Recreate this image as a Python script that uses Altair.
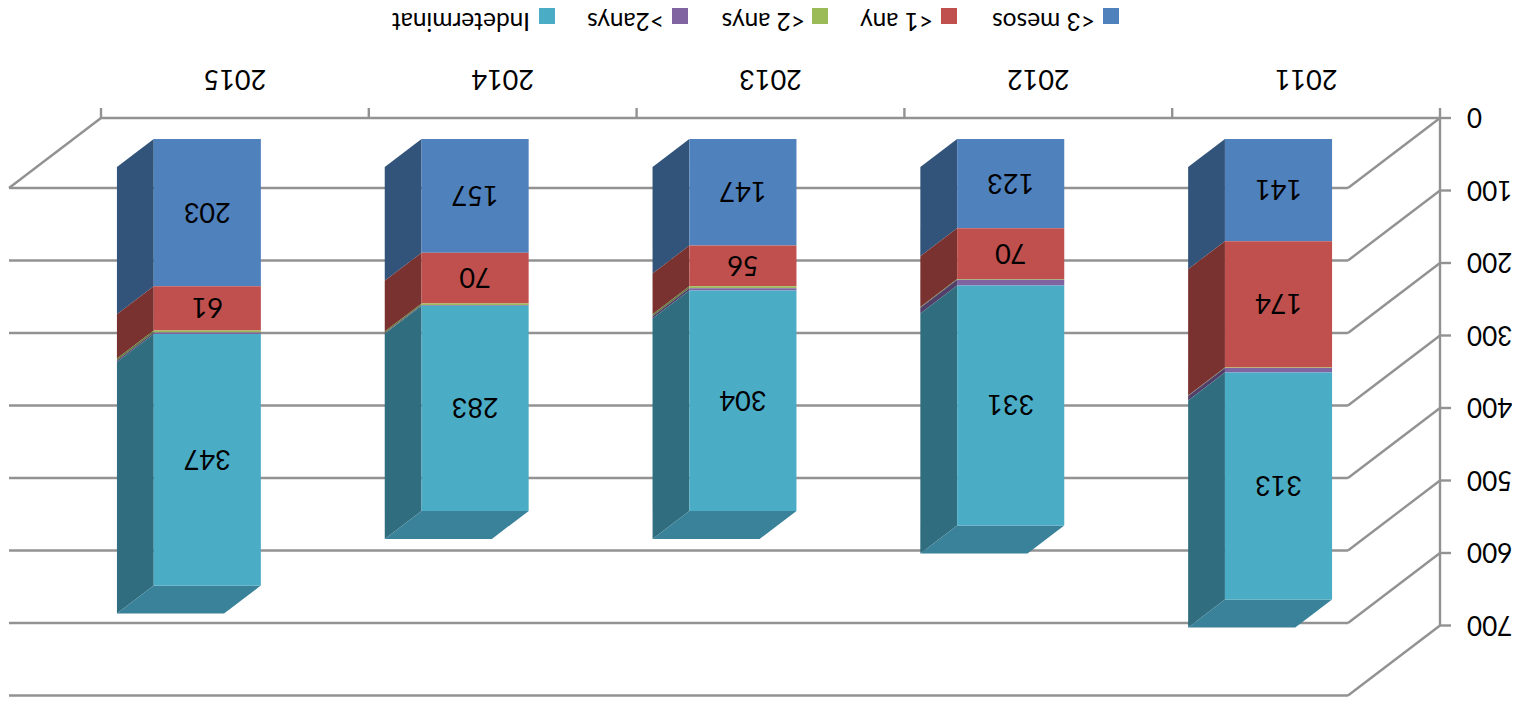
import altair as alt
import pandas as pd

# ---- values ----
years = ["2011", "2012", "2013", "2014", "2015"]
series = ["<3 mesos", "<1 any", "<2 anys", ">2anys", "Indeterminat"]
v_3mesos = [141, 123, 147, 157, 203]
v_1any = [174, 70, 56, 70, 61]
v_2anys = [1, 1, 3, 2, 3]
v_more2 = [6, 8, 3, 1, 2]
v_indet = [313, 331, 304, 283, 347]
value_ticks = [0, 100, 200, 300, 400, 500, 600, 700]
shown_labels = [True, True, False, False, True]

front_colors = ["#4F81BD", "#C0504D", "#9BBB59", "#8064A2", "#4BACC6"]
side_colors = ["#33547A", "#7A3230", "#637A39", "#523F69", "#306E7F"]
cap_color = "#39829A"
grid_color = "#929292"
font = "Lato"

# ---- pseudo-3D geometry, in scale units ----
W, H = 1504, 689
CAT_PX, VAL_PX = 267.8, 0.725
ORIGIN_X, ORIGIN_Y = 1432, 110
DEPTH_X, DEPTH_Y = 92 / CAT_PX, 70 / VAL_PX
BAR_FRONT, BAR_BACK, BAR_HALF = 0.3, 0.7, 0.2

x_scale = alt.Scale(domain=[ORIGIN_X / CAT_PX, (ORIGIN_X - W) / CAT_PX], nice=False, zero=False)
y_scale = alt.Scale(domain=[(H - ORIGIN_Y) / VAL_PX, -ORIGIN_Y / VAL_PX], nice=False, zero=False)
X = lambda f: alt.X(f, type="quantitative", scale=x_scale, axis=None)
Y = lambda f: alt.Y(f, type="quantitative", scale=y_scale, axis=None)

columns = [v_3mesos, v_1any, v_2anys, v_more2, v_indet]
fronts, sides, caps, labels = [], [], [], []
for c, year in enumerate(years):
    base = 0
    left = c + 0.5 + BAR_HALF
    right = c + 0.5 - BAR_HALF
    for s, name in enumerate(series):
        val = columns[s][c]
        lo, hi = base, base + val
        base = hi
        fronts.append(dict(x=left + BAR_FRONT * DEPTH_X, x2=right + BAR_FRONT * DEPTH_X,
                           y=lo + BAR_FRONT * DEPTH_Y, y2=hi + BAR_FRONT * DEPTH_Y, series=name))
        for d in (BAR_FRONT, BAR_BACK):
            sides.append(dict(x=left + d * DEPTH_X, y=lo + d * DEPTH_Y, y2=hi + d * DEPTH_Y,
                              series=name, seg=f"{year}-{name}"))
        if shown_labels[s]:
            labels.append(dict(x=c + 0.5 + BAR_FRONT * DEPTH_X,
                               y=(lo + hi) / 2 + BAR_FRONT * DEPTH_Y, text=str(val)))
    for d in (BAR_FRONT, BAR_BACK):
        caps.append(dict(x=left + d * DEPTH_X, x2=right + d * DEPTH_X, y=base + d * DEPTH_Y, seg=year))

grid_rows = []
for v in value_ticks:
    grid_rows += [dict(x=0, y=v, k=f"d{v}"), dict(x=DEPTH_X, y=v + DEPTH_Y, k=f"d{v}")]
    grid_rows += [dict(x=DEPTH_X, y=v + DEPTH_Y, k=f"b{v}"), dict(x=5 + DEPTH_X, y=v + DEPTH_Y, k=f"b{v}")]
grid_rows += [dict(x=5, y=0, k="dl"), dict(x=5 + DEPTH_X, y=DEPTH_Y, k="dl")]

TICK_X = 11 / CAT_PX
TICK_Y = 10 / VAL_PX
axis_rows = [dict(x=0, y=0, k="v"), dict(x=0, y=value_ticks[-1], k="v"),
             dict(x=0, y=0, k="h"), dict(x=5, y=0, k="h")]
for v in value_ticks:
    axis_rows += [dict(x=0, y=v, k=f"t{v}"), dict(x=-TICK_X, y=v, k=f"t{v}")]
for c in range(6):
    axis_rows += [dict(x=c, y=0, k=f"c{c}"), dict(x=c, y=-TICK_Y, k=f"c{c}")]

LINE_ENC = dict(x=X("x"), y=Y("y"), detail="k:N", order="o:Q")


def lines(rows, width):
    df = pd.DataFrame(rows)
    df["o"] = range(len(df))
    return alt.Chart(df).mark_line(color=grid_color, strokeWidth=width).encode(**LINE_ENC)


grid = lines(grid_rows, 2.4)
axes = lines(axis_rows, 2.4)

side_layer = alt.Chart(pd.DataFrame(sides)).mark_area(orient="vertical").encode(
    x=X("x"), y=Y("y"), y2="y2:Q", detail="seg:N",
    color=alt.Color("series:N", scale=alt.Scale(domain=series, range=side_colors), legend=None),
)
cap_layer = alt.Chart(pd.DataFrame(caps)).mark_area(orient="horizontal", color=cap_color).encode(
    y=Y("y"), x=X("x"), x2="x2:Q", detail="seg:N",
)
front_layer = alt.Chart(pd.DataFrame(fronts)).mark_rect().encode(
    x=X("x"), x2="x2:Q", y=Y("y"), y2="y2:Q",
    color=alt.Color("series:N", scale=alt.Scale(domain=series, range=front_colors), legend=None),
)

TEXT = dict(angle=180, font=font, fontSize=27, color="#000000", baseline="middle", dy=2)
value_labels = alt.Chart(pd.DataFrame(labels)).mark_text(align="center", **TEXT).encode(
    x=X("x"), y=Y("y"), text="text:N")
year_labels = alt.Chart(pd.DataFrame(dict(x=[c + 0.5 for c in range(5)], y=[-52] * 5, text=years))).mark_text(
    align="center", **TEXT).encode(x=X("x"), y=Y("y"), text="text:N")
tick_labels = alt.Chart(pd.DataFrame(dict(x=[-27 / CAT_PX] * 8, y=value_ticks,
                                          text=[str(v) for v in value_ticks]))).mark_text(
    align="right", angle=180, font=font, fontSize=26, color="#000000", baseline="middle", dy=2).encode(
    x=X("x"), y=Y("y"), text="text:N")

legend_marker_x = [1103, 941, 812, 672, 539]
legend_text_x = [1095, 933, 805, 664, 530]
legend_layers = []
for name, col, mx, tx in zip(series, front_colors, legend_marker_x, legend_text_x):
    row = pd.DataFrame(dict(label=[name]))
    legend_layers.append(alt.Chart(row).mark_square(size=256, color=col, opacity=1).encode(
        x=alt.value(mx), y=alt.value(8)))
    legend_layers.append(alt.Chart(row).mark_text(
        angle=180, font=font, fontSize=24.5, color="#000000", baseline="middle", align="left").encode(
        x=alt.value(tx - 8), y=alt.value(12), text="label:N"))

chart = alt.layer(
    grid, axes, side_layer, cap_layer, front_layer, value_labels, year_labels, tick_labels, *legend_layers
).resolve_scale(color="independent").properties(
    width=W, height=H, padding=0, autosize=alt.AutoSizeParams(type="none")
).configure_view(strokeWidth=0)

chart.save("out.html", embed_options={"renderer": "svg", "actions": False})
